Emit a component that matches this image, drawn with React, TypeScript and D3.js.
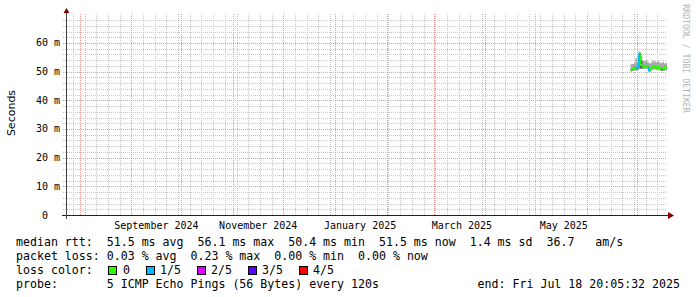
import * as d3 from "d3";

// graph window: last 360 days ending at the probe time
const endTime = "2025-07-18T20:05:32Z";
const spanDays = 360;

// one consolidated sample per day (median rtt, sorted ping spread, lost pings out of 5)
const days = [
  "2025-06-27", "2025-06-28", "2025-06-29", "2025-06-30", "2025-07-01", "2025-07-02",
  "2025-07-03", "2025-07-04", "2025-07-05", "2025-07-06", "2025-07-07", "2025-07-08",
  "2025-07-09", "2025-07-10", "2025-07-11", "2025-07-12", "2025-07-13", "2025-07-14",
  "2025-07-15", "2025-07-16", "2025-07-17", "2025-07-18",
];
const medianMs = [50.6, 50.9, 51.2, 51.0, 51.5, 56.1, 52.3, 51.8, 51.9, 52.0, 51.7, 50.4, 51.3, 51.6, 51.7, 51.4, 51.6, 51.3, 51.0, 51.3, 50.9, 51.5];
const lostPings = [0, 0, 0, 0, 1, 1, 0, 0, 0, 0, 0, 1, 0, 0, 0, 0, 0, 0, 0, 0, 0, 0];
const pingLowMs = [50.0, 50.2, 50.4, 50.3, 50.6, 50.9, 50.8, 50.9, 50.9, 51.0, 50.8, 50.0, 50.5, 50.7, 50.8, 50.6, 50.7, 50.5, 50.3, 50.4, 50.2, 50.5];
const pingHighMs = [52.6, 52.7, 52.9, 54.7, 53.2, 57.0, 55.6, 53.8, 53.6, 53.9, 53.4, 52.8, 53.2, 53.8, 53.6, 53.3, 53.7, 53.2, 52.9, 53.4, 52.8, 53.1];
const pingMidLowMs = [50.3, 50.6, 50.9, 50.7, 51.2, 51.6, 51.2, 51.5, 51.6, 51.7, 51.4, 50.2, 51.0, 51.3, 51.4, 51.1, 51.3, 51.0, 50.4, 50.5, 50.6, 51.2];
const pingMidHighMs = [50.9, 51.2, 51.5, 51.3, 51.8, 56.4, 54.0, 52.1, 52.2, 52.3, 52.0, 50.7, 51.6, 51.9, 52.0, 51.7, 51.9, 51.6, 51.3, 51.6, 51.2, 51.8];

const yTickMs = [0, 10, 20, 30, 40, 50, 60];
const monthLabels = ["September 2024", "November 2024", "January 2025", "March 2025", "May 2025"];
const monthLabelDates = ["2024-09-16", "2024-11-16", "2025-01-16", "2025-03-18", "2025-05-18"];

const lossLabels = ["0", "1/5", "2/5", "3/5", "4/5"];
const lossColors = ["#26ff00", "#00b8ff", "#dd00ff", "#5e00ff", "#ff0000"];

const statsLines = [
  "median rtt:  51.5 ms avg  56.1 ms max  50.4 ms min  51.5 ms now  1.4 ms sd  36.7   am/s",
  "packet loss: 0.03 % avg  0.23 % max  0.00 % min  0.00 % now",
];
const probeText = "probe:       5 ICMP Echo Pings (56 Bytes) every 120s";
const endText = "end: Fri Jul 18 20:05:32 2025";

const MONO = "'DejaVu Sans Mono', monospace";

export default function App() {
  const width = 697;
  const height = 297;
  const left = 66;
  const right = 667;
  const bottom = 215;
  const top = 14;

  const end = new Date(endTime);
  const start = d3.utcDay.offset(end, -spanDays);
  const parse = d3.utcParse("%Y-%m-%d");

  const x = d3.scaleUtc().domain([start, end]).range([left, right]);
  const y = d3.scaleLinear().domain([0, 70]).range([bottom, 14.3]);

  const pts = days.map((d, i) => ({
    t: parse(d)!,
    lo: pingLowMs[i],
    hi: pingHighMs[i],
    mlo: pingMidLowMs[i],
    mhi: pingMidHighMs[i],
  }));
  pts.push({ ...pts[pts.length - 1], t: end });

  const outer = d3
    .area<(typeof pts)[number]>()
    .x((d) => x(d.t))
    .y0((d) => y(d.lo))
    .y1((d) => y(d.hi))
    .curve(d3.curveStepAfter);
  const inner = d3
    .area<(typeof pts)[number]>()
    .x((d) => x(d.t))
    .y0((d) => y(d.mlo))
    .y1((d) => y(d.mhi))
    .curve(d3.curveStepAfter);

  const crisp = (v: number) => Math.round(v) + 0.5;

  const weeks = d3.utcSunday.range(start, end);
  const months = d3.utcMonth.range(start, end);
  const minorY = d3.range(2, 70, 2).filter((v) => v % 10 !== 0);
  const majorY = yTickMs.filter((v) => v > 0);

  const medianSegs = days.map((d, i) => {
    const x0 = x(parse(d)!);
    const x1 = i + 1 < days.length ? x(parse(days[i + 1])!) : x(end);
    const yv = y(medianMs[i]);
    const yp = i > 0 ? y(medianMs[i - 1]) : yv;
    return { path: `M${x0},${yp}V${yv}H${x1}`, color: lossColors[lostPings[i]] };
  });

  const rowBase = [246, 260, 274, 287.5];
  const boxX = [108, 146, 197, 248, 299];
  const boxTextX = [123, 160, 211, 262, 313];

  return (
    <svg
      width={width}
      height={height}
      style={{ position: "absolute", left: 0, top: 0, background: "#ffffff" }}
    >
      {/* grid */}
      <g strokeDasharray="1,1" strokeWidth={1}>
        {minorY.map((v) => (
          <line key={"hy" + v} x1={63} x2={right} y1={crisp(y(v))} y2={crisp(y(v))} stroke="#c8c8c8" />
        ))}
        {weeks.map((w) => (
          <line key={"wx" + +w} x1={crisp(x(w))} x2={crisp(x(w))} y1={top} y2={bottom} stroke="#c8c8c8" />
        ))}
        {majorY.map((v) => (
          <line key={"my" + v} x1={63} x2={right} y1={crisp(y(v))} y2={crisp(y(v))} stroke="#e89a9a" />
        ))}
        {months.map((m) => (
          <line key={"mx" + +m} x1={crisp(x(m))} x2={crisp(x(m))} y1={top} y2={bottom} stroke="#e89a9a" />
        ))}
      </g>

      {/* smoke */}
      <path d={outer(pts)!} fill="#a8a8a8" />
      <path d={inner(pts)!} fill="#333333" />

      {/* median rtt coloured by loss */}
      {medianSegs.map((s, i) => (
        <path key={"med" + i} d={s.path} fill="none" stroke={s.color} strokeWidth={2} />
      ))}

      {/* axes */}
      <line x1={62} x2={670} y1={bottom + 0.5} y2={bottom + 0.5} stroke="#222" />
      <line x1={66.5} x2={66.5} y1={11} y2={219} stroke="#444" />
      <path d="M668,212L674,215.5L668,219Z" fill="#800000" />
      <path d="M63.5,13L66.5,8L69.5,13Z" fill="#800000" />

      {/* y labels */}
      <g fontFamily={MONO} fontSize={10} fill="#000">
        {yTickMs.map((v) => (
          <text key={"yl" + v} x={60} y={y(v) + 3.5} textAnchor="end" xmlSpace="preserve" style={{ whiteSpace: "pre" }}>
            {v === 0 ? "0  " : `${v} m`}
          </text>
        ))}
        {monthLabels.map((l, i) => (
          <text key={"xl" + i} x={x(parse(monthLabelDates[i])!)} y={228.5} textAnchor="middle">
            {l}
          </text>
        ))}
      </g>

      <text
        transform="translate(15,113) rotate(-90)"
        textAnchor="middle"
        fontFamily="'DejaVu Sans', sans-serif"
        fontSize={11}
        fill="#000"
      >
        Seconds
      </text>

      <text
        transform="translate(683,58.5) rotate(90)"
        textAnchor="middle"
        fontFamily={MONO}
        fontSize={8.2}
        fill="#b4b4b4"
      >
        RRDTOOL / TOBI OETIKER
      </text>

      {/* legend */}
      <g fontFamily={MONO} fontSize={11.6} fill="#000">
        {statsLines.map((l, i) => (
          <text key={"st" + i} x={16} y={rowBase[i]} xmlSpace="preserve" style={{ whiteSpace: "pre" }}>
            {l}
          </text>
        ))}
        <text x={16} y={rowBase[2]}>loss color:</text>
        {lossLabels.map((l, i) => (
          <g key={"lc" + i}>
            <rect x={boxX[i] + 0.5} y={rowBase[2] - 7.5} width={8} height={8} fill={lossColors[i]} stroke="#000" strokeWidth={1} />
            <text x={boxTextX[i]} y={rowBase[2]}>
              {l}
            </text>
          </g>
        ))}
        <text x={16} y={rowBase[3]} xmlSpace="preserve" style={{ whiteSpace: "pre" }}>
          {probeText}
        </text>
        <text x={680} y={rowBase[3]} textAnchor="end">
          {endText}
        </text>
      </g>
    </svg>
  );
}
